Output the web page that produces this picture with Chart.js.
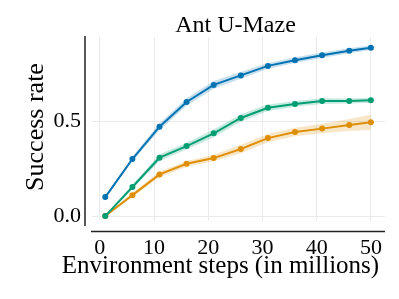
<!DOCTYPE html>
<html>
<head>
<meta charset="utf-8">
<script src="https://cdn.jsdelivr.net/npm/chart.js@4"></script>
<style>
  html, body { margin: 0; padding: 0; background: #fff; }
  #wrap { width: 399px; height: 299px; }
</style>
</head>
<body>
<div id="wrap"><canvas id="myChart" width="399" height="299"></canvas></div>
<script>
// data
const steps = [1, 6, 11, 16, 21, 26, 31, 36, 41, 46, 50];
const blueMean = [0.10, 0.30, 0.47, 0.60, 0.69, 0.74, 0.79, 0.82, 0.846, 0.87, 0.886];
const blueErr = [0.008, 0.012, 0.018, 0.02, 0.02, 0.018, 0.015, 0.015, 0.015, 0.013, 0.012];
const greenMean = [0.0, 0.153, 0.307, 0.368, 0.435, 0.516, 0.57, 0.59, 0.605, 0.605, 0.609];
const greenErr = [0.003, 0.01, 0.018, 0.018, 0.02, 0.02, 0.017, 0.015, 0.015, 0.013, 0.013];
const orangeMean = [0.0, 0.11, 0.219, 0.275, 0.305, 0.353, 0.41, 0.442, 0.46, 0.479, 0.493];
const orangeErr = [0.003, 0.01, 0.015, 0.015, 0.017, 0.022, 0.022, 0.022, 0.025, 0.032, 0.04];
const xTicks = [0, 10, 20, 30, 40, 50];
const yTicks = [0.0, 0.5];

const titleText = 'Ant U-Maze';
const xLabel = 'Environment steps (in millions)';
const yLabel = 'Success rate';
const serif = "'Liberation Serif', 'DejaVu Serif', serif";

function pts(vals) {
  return steps.map((x, i) => ({ x: x, y: vals[i] }));
}
function shifted(vals, err, sign) {
  return pts(vals.map((v, i) => Math.max(0, v + sign * err[i])));
}

/* one band (upper filled down to lower) plus the line itself */
function series(mean, err, color, fillColor, order) {
  return [
    { data: shifted(mean, err, 1), borderWidth: 0, pointRadius: 0, fill: '+1',
      backgroundColor: fillColor, order: 20 },
    { data: shifted(mean, err, -1), borderWidth: 0, pointRadius: 0, fill: false,
      order: 20 },
    { data: pts(mean), borderColor: color, backgroundColor: color, borderWidth: 2,
      pointRadius: 3, pointBorderWidth: 0, pointBackgroundColor: color,
      fill: false, order: order }
  ];
}

/* offset spines and text labels, seaborn style */
const decor = {
  id: 'decor',
  afterDraw(chart) {
    const ctx = chart.ctx;
    const a = chart.chartArea;
    ctx.save();
    ctx.strokeStyle = '#222';
    ctx.lineWidth = 1.5;
    ctx.beginPath();
    ctx.moveTo(a.left - 7, a.top - 1);
    ctx.lineTo(a.left - 7, a.bottom + 5);
    ctx.moveTo(a.left - 1, a.bottom + 10.5);
    ctx.lineTo(a.right, a.bottom + 10.5);
    ctx.stroke();

    ctx.fillStyle = '#000';
    ctx.textBaseline = 'alphabetic';
    ctx.textAlign = 'center';
    ctx.font = '24px ' + serif;
    ctx.fillText(titleText, (a.left + a.right) / 2 - 3, 31.5);
    ctx.font = '25px ' + serif;
    ctx.fillText(xLabel, (a.left + a.right) / 2 - 18, 273);

    ctx.translate(43, (a.top + a.bottom) / 2 - 2);
    ctx.rotate(-Math.PI / 2);
    ctx.font = '26px ' + serif;
    ctx.fillText(yLabel, 0, 0);
    ctx.restore();
  }
};

new Chart(document.getElementById('myChart'), {
  type: 'line',
  data: {
    datasets: [
      ...series(blueMean, blueErr, '#0173b2', 'rgba(1,115,178,0.22)', 3),
      ...series(orangeMean, orangeErr, '#de8f05', 'rgba(222,143,5,0.22)', 2),
      ...series(greenMean, greenErr, '#029e73', 'rgba(2,158,115,0.22)', 1)
    ]
  },
  options: {
    responsive: false,
    animation: false,
    layout: { padding: { top: 37, right: 14, left: 0, bottom: 0 } },
    elements: { line: { tension: 0 } },
    plugins: {
      legend: { display: false },
      tooltip: { enabled: false },
      title: { display: false }
    },
    scales: {
      x: {
        type: 'linear',
        min: -1.45,
        max: 52.6,
        afterFit(scale) { scale.height = 78; },
        afterBuildTicks(scale) { scale.ticks = xTicks.map(v => ({ value: v })); },
        grid: { color: '#ebebeb', lineWidth: 1, drawTicks: false },
        border: { display: false },
        ticks: {
          color: '#000',
          padding: 14,
          maxRotation: 0,
          font: { family: serif, size: 22 }
        }
      },
      y: {
        min: -0.026,
        max: 0.942,
        afterFit(scale) { scale.width = 92; },
        afterBuildTicks(scale) { scale.ticks = yTicks.map(v => ({ value: v })); },
        grid: { color: '#ebebeb', lineWidth: 1, drawTicks: false },
        border: { display: false },
        ticks: {
          color: '#000',
          padding: 11,
          font: { family: serif, size: 22 },
          callback: v => v.toFixed(1)
        }
      }
    }
  },
  plugins: [decor]
});
</script>
</body>
</html>
